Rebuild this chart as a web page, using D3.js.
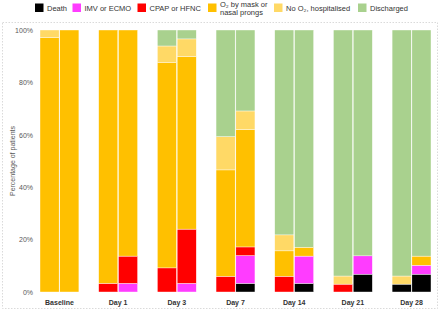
<!DOCTYPE html>
<html>
<head>
<meta charset="utf-8">
<script src="https://cdn.jsdelivr.net/npm/d3@7"></script>
<style>
  body { margin: 0; background: #fff; }
  svg { font-family: "Liberation Sans", Arial, sans-serif; }
  .tick-label { font-size: 7px; fill: #595959; }
  .x-label { font-size: 7px; font-weight: bold; fill: #333; }
  .legend text { font-size: 7.5px; fill: #333; }
</style>
</head>
<body>
<div id="wrapper"></div>
<script>
// 1. Data
const timepoints = ["Baseline", "Day 1", "Day 3", "Day 7", "Day 14", "Day 21", "Day 28"]
const statuses = ["Death", "IMV or ECMO", "CPAP or HFNC", "O2 by mask", "No O2", "Discharged"]
const yTicks = [0, 20, 40, 60, 80, 100]

// % of patients per status (bottom to top), left bar of each pair
const leftBars = [
    [0, 0, 0, 97.2, 2.8, 0],
    [0, 0, 3.3, 96.7, 0, 0],
    [0, 0, 9.2, 78.3, 6.4, 6.1],
    [0, 0, 6.0, 40.6, 12.7, 40.7],
    [0, 0, 6.0, 9.7, 6.1, 78.2],
    [0, 0, 3.0, 0, 3.1, 93.9],
    [3.0, 0, 0, 0, 3.1, 93.9],
]
// right bar of each pair
const rightBars = [
    [0, 0, 0, 100, 0, 0],
    [0, 3.3, 10.4, 86.3, 0, 0],
    [0, 3.3, 20.7, 65.9, 6.7, 3.4],
    [3.3, 10.6, 3.3, 44.8, 7.1, 30.9],
    [3.3, 10.4, 0, 3.4, 0, 82.9],
    [6.8, 7.0, 0, 0, 0, 86.2],
    [6.8, 3.4, 0, 3.5, 0, 86.3],
]

const colors = ["#000000", "#ff3cff", "#ff0000", "#ffc000", "#ffd966", "#a9d18e"]

// 2. Dimensions
const width = 440
const height = 310
const plot = { left: 40, right: 431, top: 30, bottom: 292 }

const svg = d3.select("#wrapper")
    .append("svg")
    .attr("width", width)
    .attr("height", height)

// dotted frame
svg.append("rect")
    .attr("x", 2.5).attr("y", 22.5)
    .attr("width", 435).attr("height", 286)
    .attr("fill", "none")
    .attr("stroke", "#d0d0d0")
    .attr("stroke-width", 0.8)
    .attr("stroke-dasharray", "1.5,1.5")

// 3. Scales
const xScale = d3.scaleBand()
    .domain(timepoints)
    .range([plot.left, plot.right])
    .paddingInner(0.337)
    .paddingOuter(0)

const subScale = d3.scaleBand()
    .domain(["left", "right"])
    .range([0, xScale.bandwidth()])
    .paddingInner(0.035)

const yScale = d3.scaleLinear()
    .domain([0, 100])
    .range([plot.bottom, plot.top])

const colorScale = d3.scaleOrdinal()
    .domain(statuses)
    .range(colors)

// 4. Stack data
const rows = []
timepoints.forEach((t, i) => {
    const l = { time: t, side: "left" }
    const r = { time: t, side: "right" }
    statuses.forEach((s, j) => {
        l[s] = leftBars[i][j]
        r[s] = rightBars[i][j]
    })
    rows.push(l, r)
})

const stacked = d3.stack().keys(statuses)(rows)

// 5. Draw bars
const layers = svg.selectAll(".layer")
    .data(stacked)
    .enter().append("g")
    .attr("class", "layer")
    .attr("fill", d => colorScale(d.key))

layers.selectAll("rect")
    .data(d => d.filter(p => p[1] - p[0] > 0))
    .enter().append("rect")
    .attr("x", d => xScale(d.data.time) + subScale(d.data.side))
    .attr("width", subScale.bandwidth())
    .attr("y", d => yScale(d[1]))
    .attr("height", d => yScale(d[0]) - yScale(d[1]))
    .attr("stroke", "#fff")
    .attr("stroke-width", 0.4)

// 6. Axes
const yAxis = svg.append("g")
    .attr("transform", `translate(${plot.left - 7},0)`)
    .call(d3.axisLeft(yScale).tickValues(yTicks).tickFormat(d => d + "%").tickSize(0))
yAxis.select(".domain").remove()
yAxis.selectAll("text")
    .attr("class", "tick-label")
    .attr("x", 0)
    .style("font-family", null)
    .style("font-size", null)

svg.append("text")
    .attr("class", "tick-label")
    .attr("transform", `translate(13,${(plot.top + plot.bottom) / 2}) rotate(-90)`)
    .attr("text-anchor", "middle")
    .attr("dy", "0.35em")
    .text("Percentage of patients")

const xAxis = svg.append("g")
    .attr("transform", `translate(0,${plot.bottom})`)
    .call(d3.axisBottom(xScale).tickSize(0).tickPadding(8))
xAxis.select(".domain").remove()
xAxis.selectAll("text")
    .attr("class", "x-label")
    .style("font-family", null)
    .style("font-size", null)

// 7. Legend
const legendItems = [
    { key: "Death", x: 35, lines: ["Death"] },
    { key: "IMV or ECMO", x: 72.5, lines: ["IMV or ECMO"] },
    { key: "CPAP or HFNC", x: 137.5, lines: ["CPAP or HFNC"] },
    { key: "O2 by mask", x: 208, lines: ["O₂ by mask or", "nasal prongs"] },
    { key: "No O2", x: 274, lines: ["No O₂, hospitalised"] },
    { key: "Discharged", x: 358, lines: ["Discharged"] },
]

const legend = svg.append("g").attr("class", "legend")
const items = legend.selectAll("g")
    .data(legendItems)
    .enter().append("g")
    .attr("transform", d => `translate(${d.x},3.5)`)

items.append("rect")
    .attr("width", 8.5)
    .attr("height", 8.5)
    .attr("fill", d => colorScale(d.key))

items.append("text")
    .attr("x", 12)
    .attr("y", d => d.lines.length > 1 ? 0.5 : 4.5)
    .selectAll("tspan")
    .data(d => d.lines)
    .enter().append("tspan")
    .attr("x", 12)
    .attr("dy", (d, i) => i === 0 ? "0.35em" : "8")
    .text(d => d)
</script>
</body>
</html>
